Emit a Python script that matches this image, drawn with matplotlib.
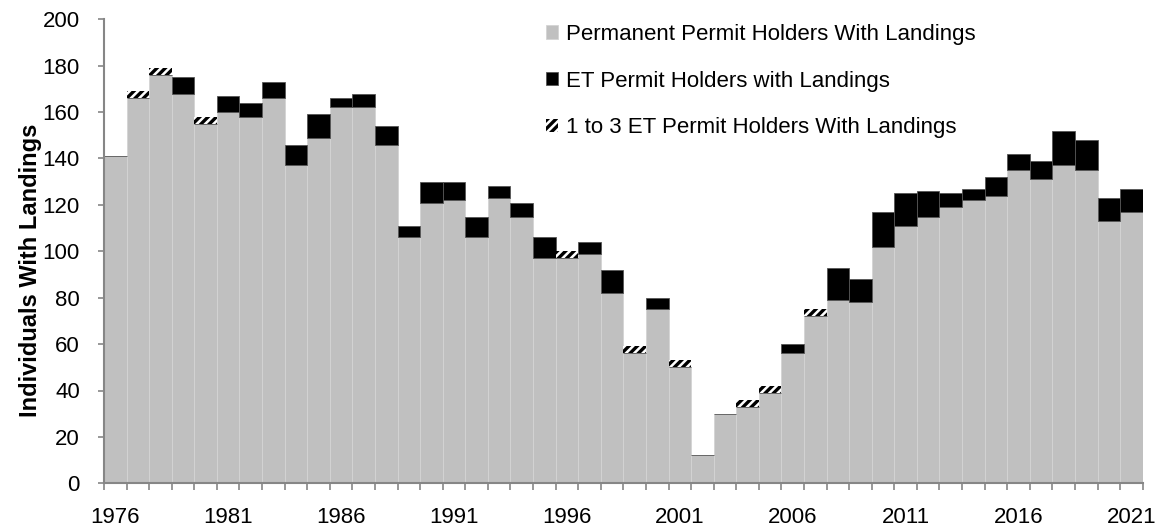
import matplotlib
matplotlib.use("Agg")
import matplotlib.pyplot as plt
import numpy as np

years = list(range(1976, 2022))
permanent = [141, 166, 176, 168, 155, 160, 158, 166, 137, 149,
             162, 162, 146, 106, 121, 122, 106, 123, 115, 97,
             97, 99, 82, 56, 75, 50, 12, 30, 33, 39,
             56, 72, 79, 78, 102, 111, 115, 119, 122, 124,
             135, 131, 137, 135, 113, 117]
et_holders = [0, 0, 0, 7, 0, 7, 6, 7, 9, 10,
              4, 6, 8, 5, 9, 8, 9, 5, 6, 9,
              0, 5, 10, 0, 5, 0, 0, 0, 0, 0,
              4, 0, 14, 10, 15, 14, 11, 6, 5, 8,
              7, 8, 15, 13, 10, 10]
# confidential years (1 to 3 ET holders) drawn as a small hatched block
small_et = [0, 3, 3, 0, 3, 0, 0, 0, 0, 0,
            0, 0, 0, 0, 0, 0, 0, 0, 0, 0,
            3, 0, 0, 3, 0, 3, 0, 0, 3, 3,
            0, 3, 0, 0, 0, 0, 0, 0, 0, 0,
            0, 0, 0, 0, 0, 0]
label_years = [1976, 1981, 1986, 1991, 1996, 2001, 2006, 2011, 2016, 2021]

fs = 16
plt.rcParams["font.family"] = ["Liberation Sans", "DejaVu Sans"]
plt.rcParams["hatch.linewidth"] = 2.4
plt.rcParams["hatch.color"] = "black"

fig = plt.figure(figsize=(11.57, 5.29), dpi=100)
ax = fig.add_axes([104 / 1157, 1 - 483.3 / 529, (1142.7 - 104) / 1157, (483.3 - 19.3) / 529])

x = np.arange(len(years))
perm = np.array(permanent)
et = np.array(et_holders)
sm = np.array(small_et)

ax.bar(x, perm, width=1.0, color="#c0c0c0", edgecolor="#d4d4d4", linewidth=0.6,
       label="Permanent Permit Holders With Landings")
ax.bar(x, et, width=1.0, bottom=perm, color="black", edgecolor="#555555", linewidth=0.6,
       label="ET Permit Holders with Landings")
ax.bar(x, sm, width=1.0, bottom=perm + et, color="white", edgecolor="black", linewidth=0,
       hatch="////", label="1 to 3 ET Permit Holders With Landings")

ax.set_xlim(-0.5, len(years) - 0.5)
ax.set_ylim(0, 200)
ax.set_yticks(range(0, 201, 20))

# ticks at bar boundaries, labels under bar centres
ax.set_xticks(np.arange(-0.5, len(years) + 0.5, 1.0))
ax.set_xticklabels([])
ax.set_xticks([years.index(y) for y in label_years], minor=True)
ax.set_xticklabels([str(y) for y in label_years], minor=True, fontsize=fs)
ax.tick_params(axis="x", which="major", direction="out", length=5, width=1.2, color="#868686")
ax.tick_params(axis="x", which="minor", length=0, pad=17)
ax.tick_params(axis="y", direction="out", length=4.3, width=1.2, color="#868686", labelsize=fs, pad=13)

for s in ["top", "right"]:
    ax.spines[s].set_visible(False)
for s in ["left", "bottom"]:
    ax.spines[s].set_color("#868686")
    ax.spines[s].set_linewidth(1.5)

ax.set_ylabel("Individuals With Landings", fontsize=17, fontweight="bold")
ax.yaxis.set_label_coords(-0.06, 0.46)

ax.legend(loc="upper left", bbox_to_anchor=(546 / 1157, 1 - 24 / 529),
          bbox_transform=fig.transFigure, frameon=False, fontsize=fs,
          borderpad=0, borderaxespad=0, handlelength=0.55, handleheight=0.55,
          handletextpad=0.35, labelspacing=1.15)

fig.savefig("out.png", dpi=100)
